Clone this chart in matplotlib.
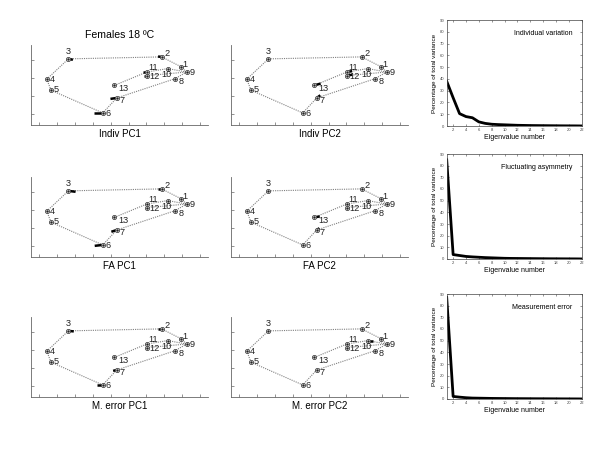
import numpy as np
import matplotlib.pyplot as plt

plt.rcParams['font.family'] = ['Liberation Sans', 'DejaVu Sans']

# consensus landmark configuration (13 wing landmarks)
lm_id = [1, 2, 3, 4, 5, 6, 7, 8, 9, 10, 11, 12, 13]
lm_x = [7.92, 6.85, 1.64, 0.43, 0.67, 3.56, 4.34, 7.60, 8.25, 7.19, 6.02, 6.02, 4.21]
lm_y = [2.63, 3.17, 3.06, 1.93, 1.32, 0.06, 0.89, 1.96, 2.33, 2.52, 2.33, 2.13, 1.59]
links = [(3, 2), (2, 1), (1, 9), (9, 8), (8, 7), (7, 6), (6, 5), (5, 4), (4, 3),
         (13, 11), (11, 10), (10, 9), (12, 9)]

# PC shape change vectors (landmark: (dx, dy))
pc_vectors = {
    'Indiv PC1': {3: (0.25, -0.05), 2: (-0.2, 0.02), 11: (-0.2, 0.0), 12: (-0.15, 0.0),
                  7: (-0.35, -0.05), 6: (-0.5, 0.0)},
    'Indiv PC2': {11: (0.3, 0.05), 12: (0.3, 0.05), 13: (0.35, 0.1), 7: (0.2, 0.15),
                  2: (0.15, 0.05), 6: (-0.1, 0.0)},
    'FA PC1': {3: (0.4, -0.05), 2: (-0.2, 0.0), 6: (-0.45, -0.05), 7: (-0.3, -0.1)},
    'FA PC2': {13: (0.3, 0.05), 7: (0.15, 0.1), 11: (0.15, 0.0), 12: (0.15, 0.0)},
    'M. error PC1': {3: (0.3, -0.03), 2: (-0.2, 0.0), 6: (-0.35, 0.0), 7: (-0.2, -0.05)},
    'M. error PC2': {10: (0.3, 0.0)},
}
panel_names = [['Indiv PC1', 'Indiv PC2'], ['FA PC1', 'FA PC2'], ['M. error PC1', 'M. error PC2']]

# scree plots
eig_n = list(range(1, 23))
indiv_var = [38, 24, 10.5, 8, 7, 3.5, 2.2, 1.5, 1.2, 1.0, 0.8, 0.6, 0.5, 0.4, 0.35,
             0.3, 0.25, 0.2, 0.15, 0.12, 0.1, 0.05]
fa_var = [85, 3.8, 3.0, 2.2, 1.8, 1.5, 1.2, 1.0, 0.8, 0.6, 0.5, 0.45, 0.4, 0.35, 0.3,
          0.25, 0.2, 0.18, 0.15, 0.12, 0.1, 0.05]
me_var = [87, 2.2, 1.6, 1.1, 0.8, 0.7, 0.6, 0.5, 0.45, 0.4, 0.35, 0.3, 0.28, 0.25, 0.22,
          0.2, 0.18, 0.15, 0.12, 0.1, 0.08, 0.05]
scree_titles = ['Individual variation', 'Fluctuating asymmetry', 'Measurement error']

# label placement around markers (pixels)
label_off = {1: (2, 2, 'left'), 2: (3, 3, 'left'), 3: (0, 7, 'center'), 4: (3, 0, 'left'),
             5: (3, 1, 'left'), 6: (3, -1, 'left'), 7: (3, -3, 'left'), 8: (4, -3, 'left'),
             9: (3, 0, 'left'), 10: (-1, -6, 'center'), 11: (2, 5, 'left'),
             12: (3, -1, 'left'), 13: (4, -3, 'left')}

W, H = 600, 450
fig = plt.figure(figsize=(6, 4.5), dpi=100)


def px_axes(x0, y0, x1, y1):
    return fig.add_axes([x0 / W, 1 - y1 / H, (x1 - x0) / W, (y1 - y0) / H])


def draw_landmarks(ax, name):
    pos = {i: (x, y) for i, x, y in zip(lm_id, lm_x, lm_y)}
    for a, b in links:
        ax.plot([pos[a][0], pos[b][0]], [pos[a][1], pos[b][1]],
                color='#808080', lw=0.8, ls=(0, (1, 1)))
    for i, (dx, dy) in pc_vectors[name].items():
        x, y = pos[i]
        ax.plot([x, x + dx], [y, y + dy], color='black', lw=1.8, solid_capstyle='butt')
    ax.plot(lm_x, lm_y, 'o', ms=3, mfc='white', mec='#444444', mew=0.6)
    ax.plot(lm_x, lm_y, '.', ms=1.5, color='#222222')
    for i in lm_id:
        ox, oy, ha = label_off[i]
        ax.annotate(str(i), pos[i], xytext=(ox, oy), textcoords='offset pixels',
                    ha=ha, va='center', fontsize=6.6, color='#222222')
    ax.set_xlim(-0.45, 9.44)
    ax.set_ylim(-0.61, 3.83)
    ax.set_xticks(range(10))
    ax.set_yticks(range(4))
    ax.tick_params(direction='in', length=2, width=0.5, colors='#666666',
                   labelbottom=False, labelleft=False)
    for s in ['top', 'right']:
        ax.spines[s].set_visible(False)
    for s in ['left', 'bottom']:
        ax.spines[s].set_color('#666666')
        ax.spines[s].set_linewidth(0.6)
    ax.set_xlabel(name, fontsize=7, labelpad=3)


rows_top = [45, 177, 317]
rows_bot = [125, 257, 397]
col_left = [31, 231]
col_right = [208, 408]

for r in range(3):
    for c in range(2):
        ax = px_axes(col_left[c], rows_top[r], col_right[c], rows_bot[r])
        draw_landmarks(ax, panel_names[r][c])
        if r == 0 and c == 0:
            ax.set_title('Females 18 ºC', fontsize=7.6, pad=5)

scree_top = [20, 154, 294]
scree_bot = [126, 259, 399]
for r, vals in enumerate([indiv_var, fa_var, me_var]):
    ax = px_axes(446.7, scree_top[r], 581.7, scree_bot[r])
    ax.plot(eig_n, vals, color='black', lw=2)
    ax.set_xlim(1, 22)
    ax.set_ylim(0, 90)
    ax.set_xticks(range(2, 23, 2))
    ax.set_yticks(range(0, 91, 10))
    ax.tick_params(direction='in', length=1.5, width=0.4, labelsize=3, pad=1.5,
                   top=True, right=True, colors='#444444')
    for s in ax.spines.values():
        s.set_linewidth(0.5)
        s.set_color('#444444')
    ax.set_xlabel('Eigenvalue number', fontsize=5, labelpad=1.5)
    ax.set_ylabel('Percentage of total variance', fontsize=4.6, labelpad=2)
    ax.text(0.93, 0.87, scree_titles[r], transform=ax.transAxes, ha='right',
            va='center', fontsize=5)

fig.savefig('out.png', dpi=100)
